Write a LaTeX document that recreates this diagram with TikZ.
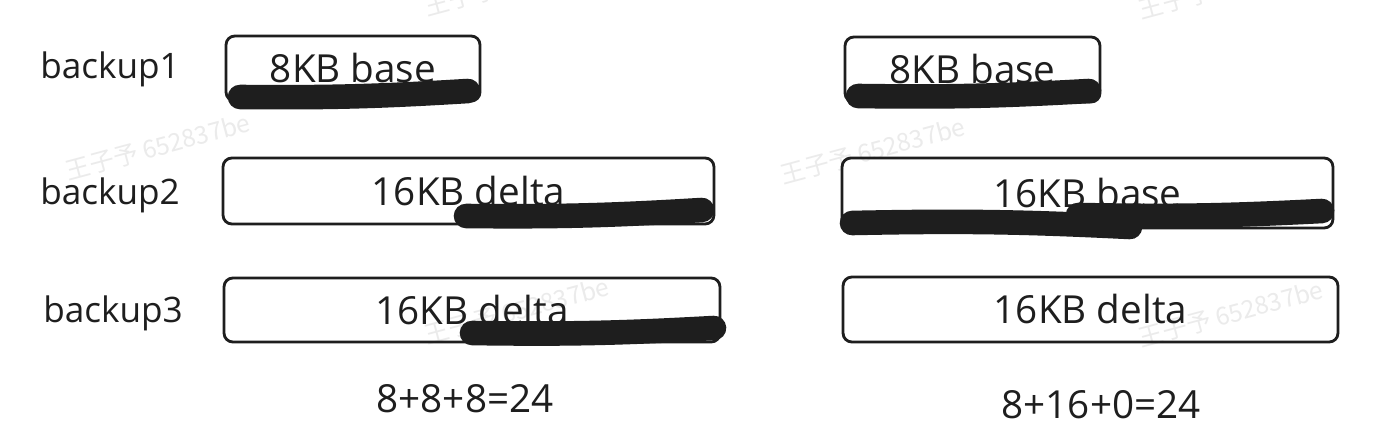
\documentclass[tikz,border=0pt]{standalone}
\usepackage{fontspec}
\setmainfont{Open Sans}
\newfontfamily\cjk{Noto Sans CJK SC}
\usetikzlibrary{positioning, calc}

\definecolor{ink}{HTML}{1E1E1E}
\definecolor{wmark}{HTML}{EBEBEB}

\tikzset{
  blk/.style={draw=ink, line width=1.6pt, rounded corners=5pt, inner sep=0pt,
              text=ink, font=\fontsize{22}{26}\selectfont},
  lbl/.style={text=ink, font=\fontsize{20}{24}\selectfont},
  sum/.style={text=ink, font=\fontsize{22}{26}\selectfont},
  scribble/.style={draw=ink, line width=14pt, line cap=round},
  wm/.style={text=wmark, rotate=15, font=\cjk\fontsize{14}{16}\selectfont}
}

\begin{document}
\begin{tikzpicture}[x=0.02cm, y=-0.02cm]
\useasboundingbox[fill=white] (0,0) rectangle (1388,446);

% watermarks
\node[wm] (w1) at (158,147) {王子予 652837be};
\node[wm] (w2) at (873,151) {王子予 652837be};
\node[wm] (w3) at (517,311) {王子予 652837be};
\node[wm] (w4) at (1231,314) {王子予 652837be};
\node[wm] (w5) at (517,-17) {王子予 652837be};
\node[wm] (w6) at (1231,-14) {王子予 652837be};

\node[lbl] (b1) at (110,69) {backup1};
\node[lbl] (b2) at (110,195) {backup2};
\node[lbl] (b3) at (113,313) {backup3};

% left column
\node[blk, minimum width=5.08cm, minimum height=1.30cm] (l1) at (353,68.5) {8KB base};
\node[blk, minimum width=9.82cm, minimum height=1.32cm] (l2) at (468.5,191) {16KB delta};
\node[blk, minimum width=9.92cm, minimum height=1.28cm] (l3) at (472,310) {16KB delta};

% right column
\node[blk, minimum width=5.10cm, minimum height=1.30cm] (r1) at (972.5,69.5) {8KB base};
\node[blk, minimum width=9.82cm, minimum height=1.40cm] (r2) at (1087.5,193) {16KB base};
\node[blk, minimum width=9.90cm, minimum height=1.30cm] (r3) at (1090.5,309.5) {16KB delta};

% blacked out parts
\draw[scribble] (240,97) to[bend right=2] (468,91);
\draw[scribble] (466,216) to[bend right=2] (702,210);
\draw[scribble] (472,333) to[bend right=2] (714,328);
\draw[scribble] (858,96) to[bend right=2] (1089,91);
\draw[scribble] (852,223) to[bend left=2] (1130,227);
\draw[scribble] (1078,215) to[bend right=2] (1322,211);

\node[sum] (s1) at (465,399) {8+8+8=24};
\node[sum] (s2) at (1101,405) {8+16+0=24};

\end{tikzpicture}
\end{document}
